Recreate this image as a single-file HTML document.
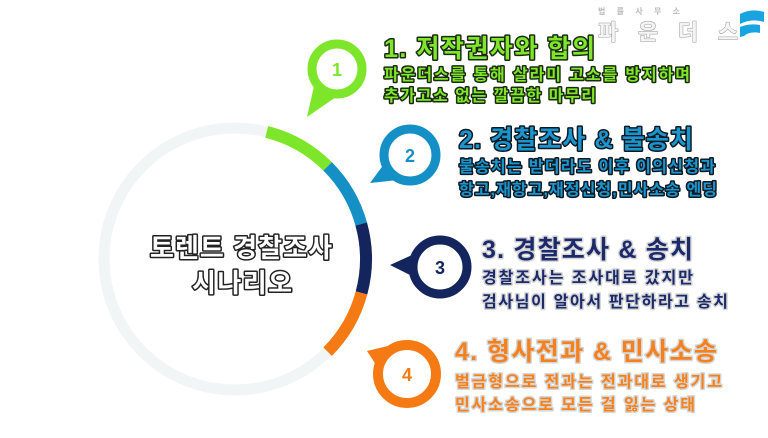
<!DOCTYPE html>
<html><head><meta charset="utf-8"><style>
html,body{margin:0;padding:0;background:#fff;}
svg{display:block;}
text{font-family:"Liberation Sans","Noto Sans CJK KR","NanumGothic",sans-serif;font-weight:bold;paint-order:stroke;stroke-linejoin:round;}
</style></head><body>
<svg width="768" height="438" viewBox="0 0 768 438" xmlns="http://www.w3.org/2000/svg">
<rect width="768" height="438" fill="#fff"/>
<!-- big ring -->
<circle cx="235" cy="259" r="131" fill="none" stroke="#f1f5f5" stroke-width="11"/>
<path d="M266.7,131.9 A131,131 0 0 1 327.6,166.4" fill="none" stroke="#7ee62a" stroke-width="12"/>
<path d="M327.6,166.4 A131,131 0 0 1 361.2,224.0" fill="none" stroke="#1590c6" stroke-width="12"/>
<path d="M361.2,224.0 A131,131 0 0 1 361.5,292.9" fill="none" stroke="#14255e" stroke-width="12"/>
<path d="M361.5,292.9 A131,131 0 0 1 327.6,351.6" fill="none" stroke="#f57a14" stroke-width="12"/>
<!-- center text -->
<text x="241" y="257" font-size="26" text-anchor="middle" fill="#fff" stroke="#222" stroke-width="3" textLength="182">토렌트 경찰조사</text>
<text x="242" y="292" font-size="26" text-anchor="middle" fill="#fff" stroke="#222" stroke-width="3" textLength="100">시나리오</text>
<!-- bubble 1 -->
<polygon points="314,86 307,117 336,97" fill="#7ee62a"/>
<circle cx="337" cy="69" r="25" fill="#fff" stroke="#7ee62a" stroke-width="9"/>
<text x="337" y="76" font-size="18" text-anchor="middle" fill="#7ee62a">1</text>
<!-- bubble 2 -->
<polygon points="384,164 370,183 398,180" fill="#1590c6"/>
<circle cx="410" cy="155" r="26" fill="#fff" stroke="#1590c6" stroke-width="9"/>
<text x="410" y="162" font-size="18" text-anchor="middle" fill="#1590c6">2</text>
<!-- bubble 3 -->
<polygon points="412,255 390,265 412,276" fill="#14255e"/>
<circle cx="440" cy="267" r="27" fill="#fff" stroke="#14255e" stroke-width="9"/>
<text x="440" y="274" font-size="18" text-anchor="middle" fill="#14255e">3</text>
<!-- bubble 4 -->
<polygon points="367,351 392,345 378,368" fill="#f57a14"/>
<circle cx="407" cy="374" r="29" fill="#fff" stroke="#f57a14" stroke-width="10"/>
<text x="407" y="381" font-size="18" text-anchor="middle" fill="#f57a14">4</text>
<!-- text 1 -->
<text x="384" y="57" font-size="25" fill="#7fe62a" stroke="#1a2a10" stroke-width="3" textLength="211">1. 저작권자와 합의</text>
<text x="384" y="80" font-size="16" fill="#7fe62a" stroke="#1a2a10" stroke-width="3" textLength="306">파운더스를 통해 살라미 고소를 방지하며</text>
<text x="384" y="101" font-size="16" fill="#7fe62a" stroke="#1a2a10" stroke-width="3" textLength="212">추가고소 없는 깔끔한 마무리</text>
<!-- text 2 -->
<text x="459" y="148" font-size="25" fill="#1b95cc" stroke="#0d1a25" stroke-width="3" textLength="234">2. 경찰조사 &amp; 불송치</text>
<text x="459" y="172" font-size="16" fill="#1b95cc" stroke="#0d1a25" stroke-width="3" textLength="256">불송치는 받더라도 이후 이의신청과</text>
<text x="459" y="195" font-size="16" fill="#1b95cc" stroke="#0d1a25" stroke-width="3" textLength="258">항고,재항고,재정신청,민사소송 엔딩</text>
<!-- text 3 -->
<text x="482" y="258" font-size="25" fill="#1c2a6b" stroke="#d6d6d6" stroke-width="3" textLength="211">3. 경찰조사 &amp; 송치</text>
<text x="482" y="283" font-size="16" fill="#1c2a6b" stroke="#d6d6d6" stroke-width="3" textLength="211">경찰조사는 조사대로 갔지만</text>
<text x="482" y="307" font-size="16" fill="#1c2a6b" stroke="#d6d6d6" stroke-width="3" textLength="246">검사님이 알아서 판단하라고 송치</text>
<!-- text 4 -->
<text x="455" y="360" font-size="25" fill="#f5801c" stroke="#d6d6d6" stroke-width="3" textLength="262">4. 형사전과 &amp; 민사소송</text>
<text x="455" y="387" font-size="16" fill="#f5801c" stroke="#d6d6d6" stroke-width="3" textLength="267">벌금형으로 전과는 전과대로 생기고</text>
<text x="455" y="410" font-size="16" fill="#f5801c" stroke="#d6d6d6" stroke-width="3" textLength="240">민사소송으로 모든 걸 잃는 상태</text>
<!-- logo -->
<text x="598" y="14" font-size="8" fill="#bbb" font-weight="normal" textLength="82">법 률 사 무 소</text>
<text x="598" y="40" font-size="22" fill="#f4f4f4" stroke="#999" stroke-width="1" font-weight="normal" textLength="140">파 운 더 스</text>
<path d="M740,14 Q752,8 764,12 L764,22 Q752,18 740,24 Z" fill="#18a4e0"/>
<path d="M740,27 Q750,23 760,25 L760,33 Q750,31 744,36 L740,37 Z" fill="#18a4e0"/>
</svg>
</body></html>
